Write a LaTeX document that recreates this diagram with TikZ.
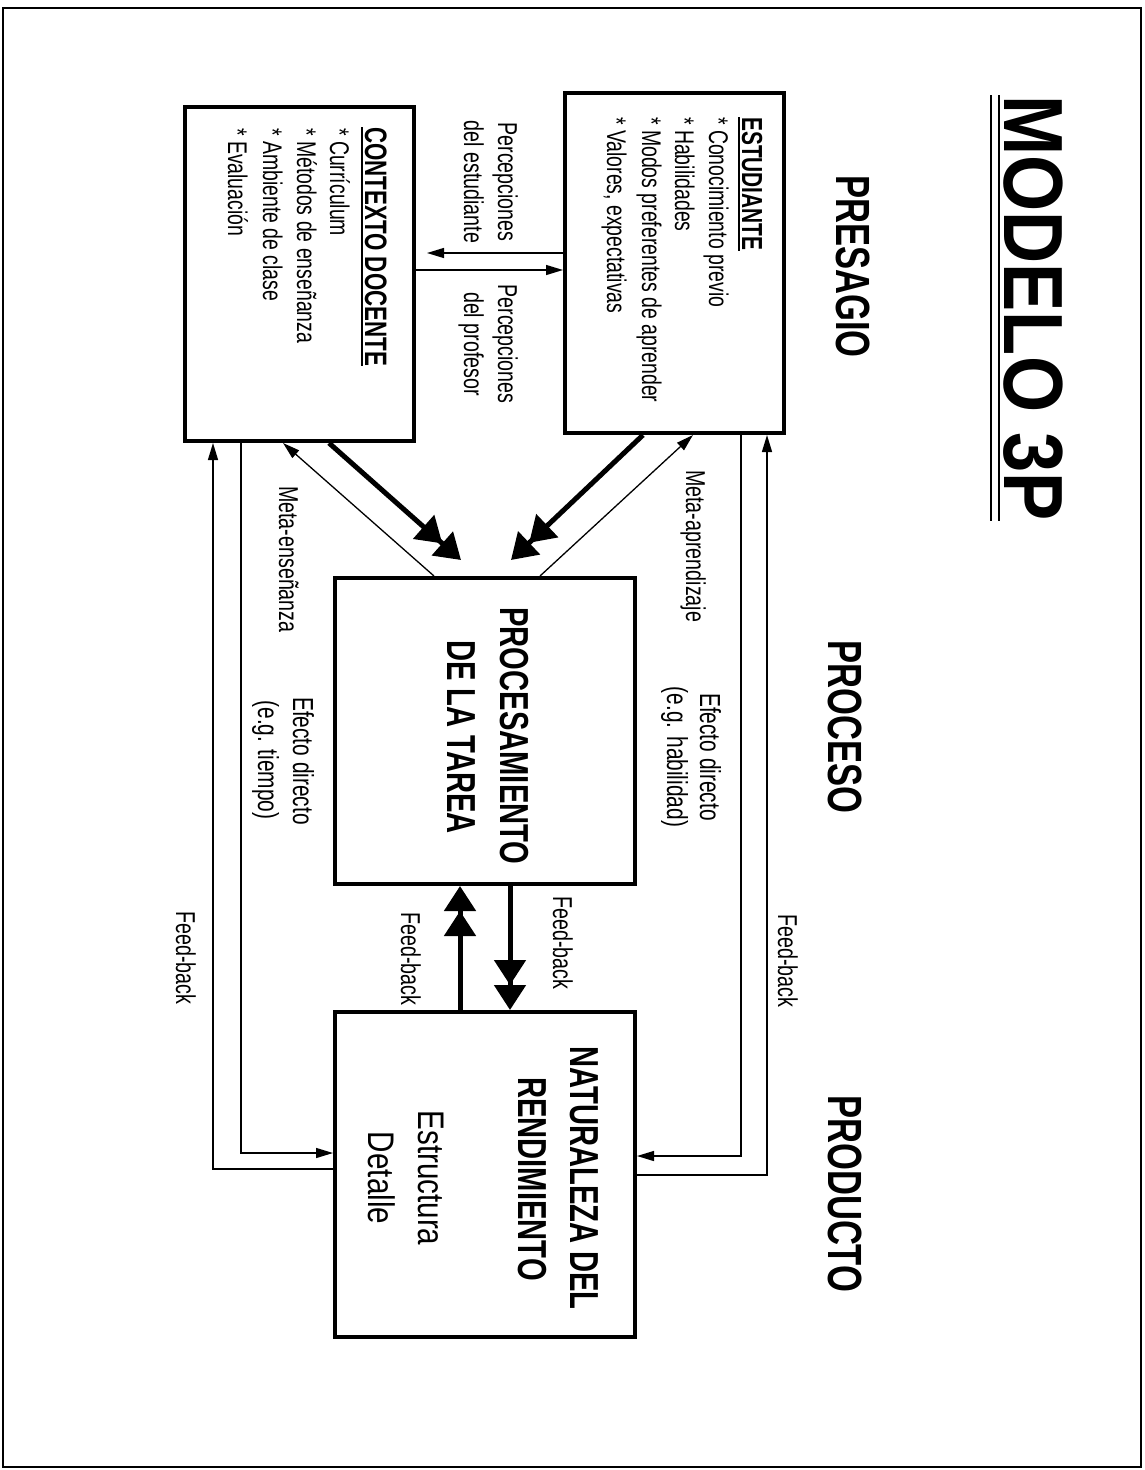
\documentclass[tikz,border=0pt]{standalone}
\usepackage{fontspec}
\setmainfont{Liberation Sans}
\newfontfamily\rfont[FakeStretch=0.72]{Liberation Sans}
\newfontfamily\rwfont[FakeStretch=0.8]{Liberation Sans}
\newfontfamily\hfont[FakeStretch=0.72]{Liberation Sans}
\newfontfamily\tfont[FakeStretch=0.86]{Liberation Sans}
\usetikzlibrary{arrows.meta}
\newcommand\fsz[1]{\fontsize{#1}{#1}\selectfont}
\begin{document}
\begin{tikzpicture}[x=1pt,y=-1pt,
  boxs/.style={draw,line width=4pt,rectangle,inner sep=0pt},
  txt/.style={rotate=-90,inner sep=0pt,anchor=base west},
  ctxt/.style={rotate=-90,inner sep=0pt,anchor=base},
  itm/.style={txt,font={\rfont\fsz{27}}},
  lbl/.style={txt,font={\rfont\fsz{27.3}}},
  clbl/.style={ctxt,font={\rfont\fsz{27.3}}},
  elbl/.style={ctxt,font={\rfont\fsz{29}}},
  head/.style={font={\hfont\bfseries\fsz{40.5}}},
  thinarr/.style={line width=1.3pt,-{Triangle[length=17pt,width=10pt]}},
  thickarr/.style={line width=5pt,-{Triangle[length=25pt,width=31pt,sep=0pt]Triangle[length=25pt,width=31pt]}},
]
\useasboundingbox (0,0) rectangle (1144,1470);
\fill[white] (0,0) rectangle (1144,1470);
% frame
\draw[line width=2pt] (3,8) rectangle (1141,1467);

% title
\node[txt,font={\tfont\bfseries\fsz{84}}] (title) at (1004,95) {MODELO 3P};
\draw[line width=2.6pt] ([xshift=-5pt]title.base west) -- ([xshift=-5pt]title.base east);
\draw[line width=2.6pt] ([xshift=-13pt]title.base west) -- ([xshift=-13pt]title.base east);

% phases
\node[txt,font={\hfont\bfseries\fsz{48}}] (ph1) at (836,175) {PRESAGIO};
\node[txt,font={\hfont\bfseries\fsz{48}}] (ph2) at (828,640) {PROCESO};
\node[txt,font={\hfont\bfseries\fsz{48}}] (ph3) at (828,1095) {PRODUCTO};

% boxes
\node[boxs,minimum width=219pt,minimum height=340pt] (est) at (674.5,263) {};
\node[boxs,minimum width=229pt,minimum height=334pt] (ctx) at (299.5,274) {};
\node[boxs,minimum width=300pt,minimum height=306pt] (proc) at (485,731) {};
\node[boxs,minimum width=300pt,minimum height=325pt] (nat) at (485,1174.5) {};

% ESTUDIANTE text
\node[txt,font={\hfont\bfseries\fsz{29}}] (estT) at (742,117) {ESTUDIANTE};
\draw[line width=2pt] ([xshift=-3pt]estT.base west) -- ([xshift=-3pt]estT.base east);
\node[itm] (est1) at (709,117) {* Conocimiento previo};
\node[itm] (est2) at (675,117) {* Habilidades};
\node[itm] (est3) at (642,117) {* Modos preferentes de aprender};
\node[itm] (est4) at (607,117) {* Valores, expectativas};

% CONTEXTO text
\node[txt,font={\hfont\bfseries\fsz{31}}] (ctxT) at (365,127) {CONTEXTO DOCENTE};
\draw[line width=2pt] ([xshift=-3pt]ctxT.base west) -- ([xshift=-3pt]ctxT.base east);
\node[itm] (ctx1) at (330,128) {* Currículum};
\node[itm] (ctx2) at (297,128) {* Métodos de enseñanza};
\node[itm] (ctx3) at (263,128) {* Ambiente de clase};
\node[itm] (ctx4) at (228,128) {* Evaluación};

% PROCESAMIENTO
\node[ctxt,head] (procT1) at (500,736) {PROCESAMIENTO};
\node[ctxt,head] (procT2) at (447,737) {DE LA TAREA};

% NATURALEZA
\node[ctxt,head] (natT1) at (570,1178) {NATURALEZA DEL};
\node[ctxt,head] (natT2) at (518,1179) {RENDIMIENTO};
\node[ctxt,font={\rwfont\fsz{37}}] (natT3) at (418,1178) {Estructura};
\node[ctxt,font={\rwfont\fsz{37}}] (natT4) at (368,1178) {Detalle};

% perceptions
\node[clbl] (pe1) at (498,182) {Percepciones};
\node[clbl] (pe2) at (464,182) {del estudiante};
\node[clbl] (pp1) at (498,344) {Percepciones};
\node[clbl] (pp2) at (464,344) {del profesor};
\coordinate (petip) at (427,253);
\draw[thinarr] (est.west |- 0,253) -- (petip);
\draw[thinarr] (ctx.east |- 0,270) -- (est.west |- 0,270);

% meta labels
\node[lbl] (meta1) at (686,470) {Meta-aprendizaje};
\node[lbl] (meta2) at (279,486) {Meta-enseñanza};

% efecto labels
\node[elbl] (ef1) at (700,757) {Efecto directo};
\node[elbl] (ef2) at (667,757) {(e.g. habilidad)};
\node[elbl] (ef3) at (293,761) {Efecto directo};
\node[elbl] (ef4) at (258,760) {(e.g. tiempo)};

% feed-back labels
\node[lbl] (fb1) at (176,911) {Feed-back};
\node[lbl] (fb2) at (401,912) {Feed-back};
\node[lbl] (fb3) at (553,896) {Feed-back};
\node[lbl] (fb4) at (778,914) {Feed-back};

% thick diagonal arrows
\coordinate (tipL) at (461,560);
\coordinate (tipR) at (511,560);
\draw[thickarr] (ctx.south -| 329,0) -- (tipL);
\draw[thickarr] (est.south -| 643,0) -- (tipR);

% thin meta arrows
\draw[thinarr] (proc.north -| 434,0) -- (ctx.south -| 283,0);
\draw[thinarr] (proc.north -| 540,0) -- (est.south -| 693,0);

% thick vertical arrows
\draw[thickarr] (nat.north -| 460,0) -- (proc.south -| 460,0);
\draw[thickarr] (proc.south -| 510,0) -- (nat.north -| 510,0);

% long connectors
\draw[thinarr] (ctx.south -| 241,0) |- (nat.west |- 0,1153);
\draw[thinarr] (nat.west |- 0,1169) -| (ctx.south -| 213,0);
\draw[thinarr] (est.south -| 741,0) |- (nat.east |- 0,1156);
\draw[thinarr] (nat.east |- 0,1175) -| (est.south -| 767,0);
\end{tikzpicture}
\end{document}
